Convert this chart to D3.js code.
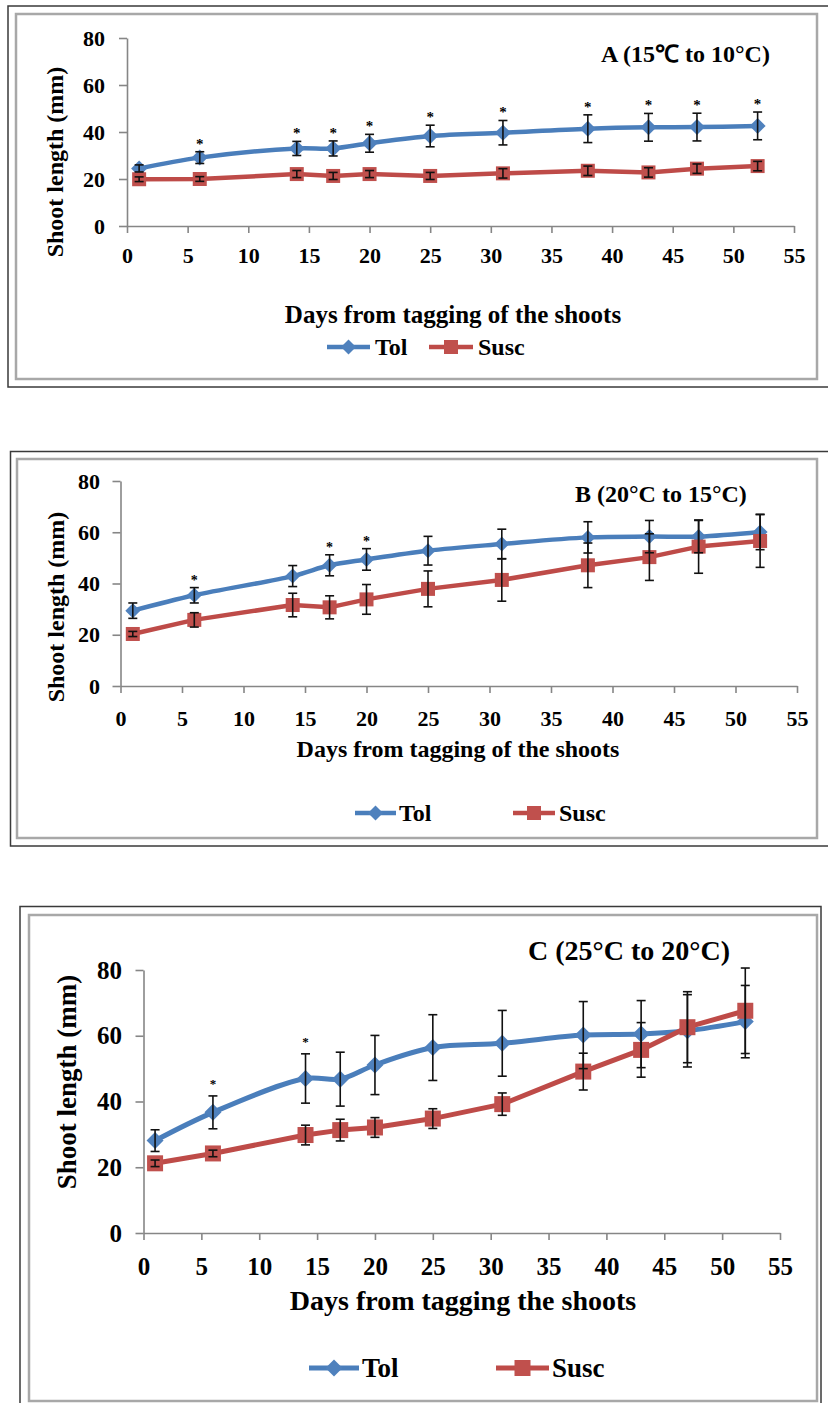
<!DOCTYPE html>
<html><head><meta charset="utf-8">
<script src="https://cdn.jsdelivr.net/npm/d3@7"></script>
<style>
body{margin:0;background:#fff}
svg{display:block}
text{font-family:"Liberation Serif","Times New Roman",serif;font-weight:bold;fill:#000}
</style>
</head><body>
<svg id="chart" width="828" height="1403"></svg>
<script>
// ---------- data ----------
const days = [1, 6, 14, 17, 20, 25, 31, 38, 43, 47, 52];
const xTicks = [0, 5, 10, 15, 20, 25, 30, 35, 40, 45, 50, 55];
const yTicks = [0, 20, 40, 60, 80];
const seriesNames = ["Tol", "Susc"];

const tolA     = [24.5, 29.1, 33.0, 33.0, 35.2, 38.3, 39.7, 41.4, 42.0, 42.1, 42.6];
const tolAErr  = [1.5, 2.5, 3.0, 3.2, 3.8, 4.6, 5.2, 5.9, 5.9, 5.9, 5.9];
const suscA    = [19.9, 20.0, 22.1, 21.3, 22.1, 21.3, 22.4, 23.5, 22.8, 24.4, 25.5];
const suscAErr = [1.0, 1.0, 1.5, 1.5, 1.5, 1.5, 2.0, 2.0, 2.0, 2.0, 2.0];
const sigA     = [6, 14, 17, 20, 25, 31, 38, 43, 47, 52];

const tolB     = [29.4, 35.4, 42.9, 47.1, 49.4, 52.8, 55.4, 58.0, 58.3, 58.3, 60.1];
const tolBErr  = [3.0, 3.0, 4.1, 4.1, 4.2, 5.6, 5.8, 6.1, 6.3, 6.3, 6.9];
const suscB    = [20.3, 25.8, 31.6, 30.7, 33.8, 37.9, 41.4, 47.1, 50.3, 54.4, 56.6];
const suscBErr = [1.0, 2.8, 4.6, 4.5, 5.8, 7.0, 8.3, 8.7, 9.1, 10.4, 10.3];
const sigB     = [6, 17, 20];

const tolC     = [28.1, 36.7, 47.0, 46.8, 51.1, 56.4, 57.7, 60.2, 60.5, 61.5, 64.3];
const tolCErr  = [3.3, 5.0, 7.5, 8.2, 9.0, 10.0, 10.0, 10.2, 10.2, 11.0, 11.0];
const suscC    = [21.2, 24.2, 29.8, 31.3, 32.1, 34.8, 39.2, 49.1, 55.7, 62.6, 67.6];
const suscCErr = [1.0, 1.0, 3.0, 3.3, 3.0, 3.0, 3.4, 5.6, 8.3, 10.8, 13.0];
const sigC     = [6, 14];

const titles  = ["A (15\u2103 to 10\u00B0C)", "B (20\u00B0C to 15\u00B0C)", "C (25\u00B0C to 20\u00B0C)"];
const xTitles = ["Days from tagging of the shoots", "Days from tagging of the shoots", "Days from tagging the shoots"];
const yTitle  = "Shoot length (mm)";

// ---------- layout ----------
const TOL_LINE = "#4A7EBB", TOL_FILL = "#4F81BD";
const SUS_LINE = "#BE4B48", SUS_FILL = "#C0504D";
const AXIS = "#868686";

const panels = [
  { tol: tolA, tolErr: tolAErr, susc: suscA, suscErr: suscAErr, sig: sigA, title: titles[0], xTitle: xTitles[0],
    outer: [8, 6, 850, 387], inner: [16, 14, 817, 379],
    xr: [127, 794], yr: [226, 38], tickFont: 22, yLabR: 105, xLabBase: 263,
    yT: [55, 162, 24], xT: [453, 323, 25], tT: [601, 62, 24],
    leg: { y: 347, tol: [327, 370, 375], susc: [429, 473, 478], size: 24, d: 7.5, s: 7 },
    mk: { d: 8, s: 7, lw: 4.5 }, star: { size: 15, off: 3 } },
  { tol: tolB, tolErr: tolBErr, susc: suscB, suscErr: suscBErr, sig: sigB, title: titles[1], xTitle: xTitles[1],
    outer: [10.5, 451.5, 850, 846], inner: [17, 459, 817, 838],
    xr: [120.5, 797], yr: [686, 481], tickFont: 22, yLabR: 100, xLabBase: 726,
    yT: [56, 607, 24], xT: [458, 757, 24], tT: [575, 502, 24],
    leg: { y: 813, tol: [355, 396, 399], susc: [513, 555, 559], size: 24, d: 7.5, s: 7 },
    mk: { d: 7.5, s: 7, lw: 4.5 }, star: { size: 14, off: 3 } },
  { tol: tolC, tolErr: tolCErr, susc: suscC, suscErr: suscCErr, sig: sigC, title: titles[2], xTitle: xTitles[2],
    outer: [20, 906.5, 821, 1420], inner: [29, 915, 817, 1401],
    xr: [143.5, 780], yr: [1233, 970], tickFont: 25, yLabR: 122, xLabBase: 1275,
    yT: [67, 1082, 27], xT: [463, 1310, 28], tT: [528, 960, 28],
    leg: { y: 1368, tol: [309, 359, 362], susc: [496, 549, 552], size: 27, d: 8.5, s: 8 },
    mk: { d: 8.5, s: 8, lw: 5 }, star: { size: 13, off: 8 } }
];

const svg = d3.select("#chart");

function diamond(d) { return `M0,${-d}L${d},0L0,${d}L${-d},0Z`; }

panels.forEach(p => {
  const g = svg.append("g");
  // frames
  g.append("rect").attr("x", p.outer[0]).attr("y", p.outer[1])
    .attr("width", p.outer[2] - p.outer[0]).attr("height", p.outer[3] - p.outer[1])
    .attr("fill", "none").attr("stroke", "#3a3a3a").attr("stroke-width", 1.5);
  g.append("rect").attr("x", p.inner[0]).attr("y", p.inner[1])
    .attr("width", p.inner[2] - p.inner[0]).attr("height", p.inner[3] - p.inner[1])
    .attr("fill", "none").attr("stroke", "#a8a8a8").attr("stroke-width", 2.5);

  const x = d3.scaleLinear().domain([0, 55]).range(p.xr);
  const y = d3.scaleLinear().domain([0, 80]).range(p.yr);

  // y axis
  const ya = g.append("g").attr("transform", `translate(${p.xr[0]},0)`)
    .call(d3.axisLeft(y).tickValues(yTicks).tickSize(8).tickSizeOuter(0)
      .tickPadding(p.xr[0] - p.yLabR - 8).tickFormat(d3.format("d")));
  // x axis
  const xa = g.append("g").attr("transform", `translate(0,${p.yr[0]})`)
    .call(d3.axisBottom(x).tickValues(xTicks).tickSize(7).tickSizeOuter(0).tickFormat(d3.format("d")));
  [ya, xa].forEach(a => {
    a.select(".domain").attr("stroke", AXIS).attr("stroke-width", 1.6);
    a.selectAll(".tick line").attr("stroke", AXIS).attr("stroke-width", 1.6);
    a.selectAll("text").attr("font-size", p.tickFont).attr("fill", "#000")
      .style("font-family", '"Liberation Serif","Times New Roman",serif').style("font-weight", "bold");
  });
  xa.selectAll("text").attr("dy", null).attr("y", p.xLabBase - p.yr[0]);

  const smooth = d3.line().x((d, i) => x(days[i])).y(d => y(d)).curve(d3.curveCatmullRom.alpha(0.5));
  const straight = d3.line().x((d, i) => x(days[i])).y(d => y(d));

  const series = [
    { v: p.tol, e: p.tolErr, lc: TOL_LINE, fc: TOL_FILL, shape: "d", gen: smooth },
    { v: p.susc, e: p.suscErr, lc: SUS_LINE, fc: SUS_FILL, shape: "s", gen: straight }
  ];
  series.forEach(s => {
    g.append("path").datum(s.v).attr("d", s.gen).attr("fill", "none")
      .attr("stroke", s.lc).attr("stroke-width", p.mk.lw).attr("stroke-linejoin", "round");
    s.v.forEach((v, i) => {
      const cx = x(days[i]), cy = y(v);
      if (s.shape === "d") {
        g.append("path").attr("d", diamond(p.mk.d)).attr("transform", `translate(${cx},${cy})`).attr("fill", s.fc);
      } else {
        g.append("rect").attr("x", cx - p.mk.s).attr("y", cy - p.mk.s)
          .attr("width", 2 * p.mk.s).attr("height", 2 * p.mk.s).attr("fill", s.fc);
      }
    });
  });
  // error bars
  series.forEach(s => {
    s.v.forEach((v, i) => {
      const cx = x(days[i]);
      const y1 = y(v + s.e[i]), y2 = y(v - s.e[i]);
      g.append("line").attr("x1", cx).attr("x2", cx).attr("y1", y1).attr("y2", y2)
        .attr("stroke", "#111").attr("stroke-width", 1.6);
      [y1, y2].forEach(yy => g.append("line").attr("x1", cx - 4.5).attr("x2", cx + 4.5)
        .attr("y1", yy).attr("y2", yy).attr("stroke", "#111").attr("stroke-width", 1.6));
    });
  });
  // significance asterisks
  p.sig.forEach(dd => {
    const i = days.indexOf(dd);
    g.append("text").attr("x", x(dd)).attr("y", y(p.tol[i] + p.tolErr[i]) - p.star.off)
      .attr("text-anchor", "middle").attr("font-size", p.star.size).text("*");
  });

  // titles
  g.append("text").attr("x", p.tT[0]).attr("y", p.tT[1]).attr("font-size", p.tT[2]).text(p.title);
  g.append("text").attr("x", p.xT[0]).attr("y", p.xT[1]).attr("font-size", p.xT[2])
    .attr("text-anchor", "middle").text(p.xTitle);
  g.append("text").attr("transform", `translate(${p.yT[0]},${p.yT[1]}) rotate(-90)`)
    .attr("font-size", p.yT[2]).attr("text-anchor", "middle").attr("dy", "0.35em").text(yTitle);

  // legend
  const L = p.leg;
  [[L.tol, TOL_LINE, TOL_FILL, "d", seriesNames[0]], [L.susc, SUS_LINE, SUS_FILL, "s", seriesNames[1]]].forEach(([pos, lc, fc, sh, name]) => {
    g.append("line").attr("x1", pos[0]).attr("x2", pos[1]).attr("y1", L.y).attr("y2", L.y)
      .attr("stroke", lc).attr("stroke-width", p.mk.lw);
    const mx = (pos[0] + pos[1]) / 2;
    if (sh === "d") g.append("path").attr("d", diamond(L.d)).attr("transform", `translate(${mx},${L.y})`).attr("fill", fc);
    else g.append("rect").attr("x", mx - L.s).attr("y", L.y - L.s).attr("width", 2 * L.s).attr("height", 2 * L.s).attr("fill", fc);
    g.append("text").attr("x", pos[2]).attr("y", L.y).attr("dy", "0.33em").attr("font-size", L.size).text(name);
  });
});
</script>
</body></html>
